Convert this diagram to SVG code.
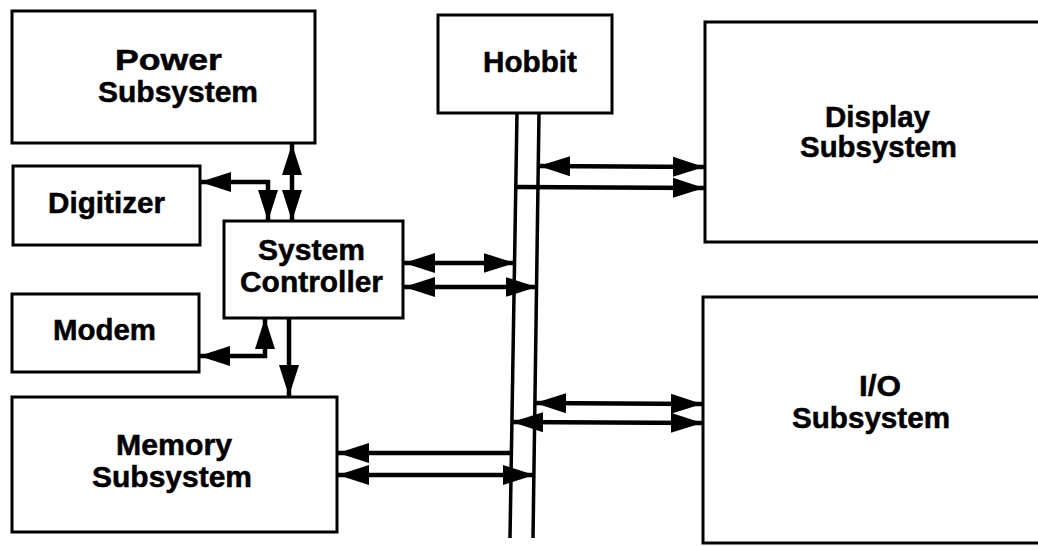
<svg xmlns="http://www.w3.org/2000/svg" width="1038" height="546" viewBox="0 0 1038 546">
<defs>
<style>
.box{fill:#fff;stroke:#000;stroke-width:3}
.lbl{font-family:"Liberation Sans",Arial,sans-serif;font-weight:bold;font-size:29px;fill:#000;stroke:#000;stroke-width:0.5}
.bus{stroke:#000;stroke-width:3.5;fill:none}
.c{stroke:#000;stroke-width:4.5;fill:none}
.ah{marker-end:url(#arr)}
.as{marker-start:url(#arr)}
</style>
<marker id="arr" markerUnits="userSpaceOnUse" markerWidth="32" markerHeight="22" viewBox="0 0 32 22" refX="31" refY="11" orient="auto-start-reverse">
<path d="M0,1 L31,11 L0,21 z" fill="#000"/>
</marker>
</defs>
<rect width="1038" height="546" fill="#fff"/>

<g id="power">
<rect class="box" x="12" y="11" width="303" height="132"/>
<text class="lbl" x="115" y="70" textLength="107" lengthAdjust="spacingAndGlyphs">Power</text>
<text class="lbl" x="98" y="102" textLength="160" lengthAdjust="spacingAndGlyphs">Subsystem</text>
</g>
<g id="digitizer">
<rect class="box" x="13" y="166" width="187" height="79"/>
<text class="lbl" x="48" y="213" textLength="117" lengthAdjust="spacingAndGlyphs">Digitizer</text>
</g>
<g id="controller">
<rect class="box" x="224" y="221" width="179" height="97"/>
<text class="lbl" x="258" y="260" textLength="107" lengthAdjust="spacingAndGlyphs">System</text>
<text class="lbl" x="240" y="292" textLength="143" lengthAdjust="spacingAndGlyphs">Controller</text>
</g>
<g id="modem">
<rect class="box" x="12" y="294" width="187" height="78"/>
<text class="lbl" x="53" y="340" textLength="103" lengthAdjust="spacingAndGlyphs">Modem</text>
</g>
<g id="memory">
<rect class="box" x="12" y="397" width="325" height="135"/>
<text class="lbl" x="116" y="455" textLength="116" lengthAdjust="spacingAndGlyphs">Memory</text>
<text class="lbl" x="92" y="487" textLength="160" lengthAdjust="spacingAndGlyphs">Subsystem</text>
</g>
<g id="hobbit">
<rect class="box" x="438" y="15" width="174" height="98"/>
<text class="lbl" x="483" y="72" textLength="94" lengthAdjust="spacingAndGlyphs">Hobbit</text>
</g>
<g id="display">
<rect class="box" x="705" y="22" width="345" height="220"/>
<text class="lbl" x="825" y="127" textLength="105" lengthAdjust="spacingAndGlyphs">Display</text>
<text class="lbl" x="800" y="157" textLength="157" lengthAdjust="spacingAndGlyphs">Subsystem</text>
</g>
<g id="io">
<rect class="box" x="703" y="297" width="345" height="246"/>
<text class="lbl" x="859" y="396" textLength="42" lengthAdjust="spacingAndGlyphs">I/O</text>
<text class="lbl" x="792" y="428" textLength="158" lengthAdjust="spacingAndGlyphs">Subsystem</text>
</g>

<g id="connectors">
<line class="bus" x1="517" y1="113" x2="510" y2="538"/>
<line class="bus" x1="539" y1="113" x2="533" y2="538"/>
<path class="c as ah" d="M200,182 H268 V221"/>
<line class="c as ah" x1="292" y1="144" x2="292" y2="221"/>
<path class="c as ah" d="M199,356 H265 V318"/>
<line class="c ah" x1="289" y1="318" x2="289" y2="396"/>
<line class="c as ah" x1="404" y1="263" x2="514.6" y2="263"/>
<line class="c as ah" x1="404" y1="287" x2="536.6" y2="287"/>
<line class="c as ah" x1="539" y1="166" x2="704" y2="167"/>
<line class="c ah" x1="515.8" y1="187" x2="704" y2="188"/>
<line class="c as ah" x1="535" y1="403" x2="702" y2="404"/>
<line class="c as ah" x1="512" y1="422" x2="702" y2="423"/>
<line class="c as" x1="338" y1="453" x2="511.4" y2="453"/>
<line class="c as ah" x1="338" y1="475" x2="534" y2="475"/>
</g>
</svg>
